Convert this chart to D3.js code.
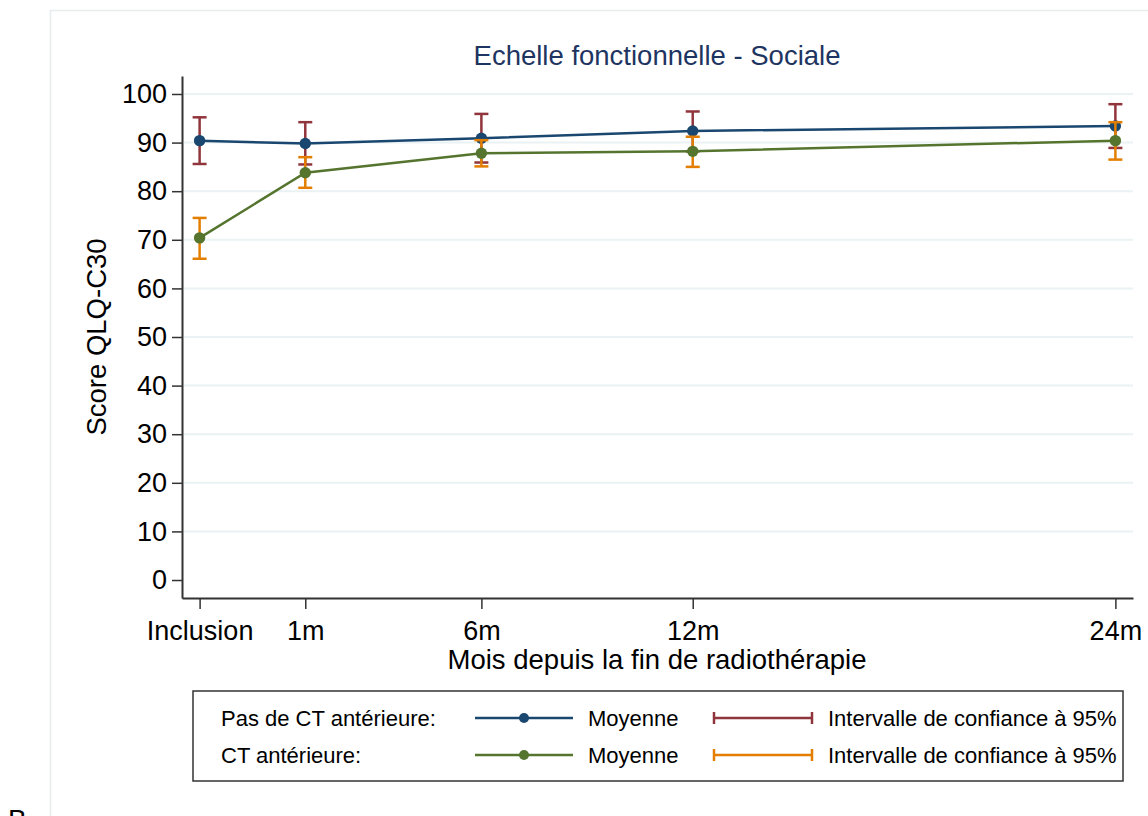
<!DOCTYPE html>
<html>
<head>
<meta charset="utf-8">
<script src="https://cdn.jsdelivr.net/npm/d3@7"></script>
<style>
  html, body { margin: 0; padding: 0; background: #fff; }
  svg { display: block; font-family: Arial, "Liberation Sans", Helvetica, sans-serif; }
</style>
</head>
<body>
<div id="chart"></div>
<script>
// ---------------------------------------------------------------
// Data
// ---------------------------------------------------------------
var timeLabels = ['Inclusion', '1m', '6m', '12m', '24m'];
var timeValues = [-2, 1, 6, 12, 24];

// Pas de CT antérieure
var meanNoCT = [90.4, 89.8, 90.9, 92.4, 93.4];
var lowNoCT  = [85.6, 85.5, 85.9, 88.2, 88.9];
var highNoCT = [95.2, 94.2, 95.9, 96.4, 97.9];

// CT antérieure
var meanCT = [70.4, 83.8, 87.8, 88.2, 90.4];
var lowCT  = [66.1, 80.7, 85.1, 85.0, 86.5];
var highCT = [74.5, 87.0, 90.5, 91.2, 94.2];

var yTicks = [0, 10, 20, 30, 40, 50, 60, 70, 80, 90, 100];

var W = 1148, H = 816;
var NAVY = '#1a476f', MAROON = '#90353b', GREEN = '#55752f', ORANGE = '#e37e00';
var GRID = '#eaf2f3', AXIS = '#333333';

var svg = d3.select('#chart').append('svg')
  .attr('width', W).attr('height', H);

// faint outer graph region outline
svg.append('path')
  .attr('d', 'M50.5,' + H + 'V10.5H' + W)
  .attr('fill', 'none')
  .attr('stroke', '#e6edef')
  .attr('stroke-width', 1.5);

var x = d3.scaleLinear().domain([-2.5, 24.5]).range([182, 1133]);
var y = d3.scaleLinear().domain([-3.7, 103.7]).range([598, 76]);

// gridlines
svg.append('g').selectAll('line')
  .data(yTicks.filter(function (d) { return d > 0; }))
  .join('line')
  .attr('x1', x.range()[0] + 2).attr('x2', x.range()[1])
  .attr('y1', function (d) { return y(d); })
  .attr('y2', function (d) { return y(d); })
  .attr('stroke', GRID)
  .attr('stroke-width', 2);

// y axis
var yAxis = svg.append('g')
  .attr('transform', 'translate(' + x.range()[0] + ',0)')
  .call(d3.axisLeft(y).tickValues(yTicks).tickSize(10).tickPadding(5).tickSizeOuter(0));
yAxis.select('.domain').attr('stroke', AXIS).attr('stroke-width', 2);
yAxis.selectAll('.tick line').attr('stroke', AXIS).attr('stroke-width', 1.5);
yAxis.selectAll('.tick text')
  .attr('font-size', 27).attr('fill', '#000').attr('font-family', null);

// x axis
var xAxis = svg.append('g')
  .attr('transform', 'translate(0,' + y.range()[0] + ')')
  .call(d3.axisBottom(x).tickValues(timeValues)
    .tickFormat(function (d, i) { return timeLabels[i]; })
    .tickSize(11).tickPadding(12).tickSizeOuter(0));
xAxis.select('.domain').attr('stroke', AXIS).attr('stroke-width', 2);
xAxis.selectAll('.tick line').attr('stroke', AXIS).attr('stroke-width', 1.5);
xAxis.selectAll('.tick text')
  .attr('font-size', 27).attr('fill', '#000').attr('font-family', null);

// titles
svg.append('text')
  .attr('x', 657).attr('y', 65)
  .attr('text-anchor', 'middle')
  .attr('font-size', 27.5)
  .attr('fill', '#1e3461')
  .text('Echelle fonctionnelle - Sociale');

svg.append('text')
  .attr('x', 657).attr('y', 669)
  .attr('text-anchor', 'middle')
  .attr('font-size', 27.5)
  .attr('fill', '#000')
  .text('Mois depuis la fin de radiothérapie');

svg.append('text')
  .attr('transform', 'translate(106,' + ((y.range()[0] + y.range()[1]) / 2) + ') rotate(-90)')
  .attr('text-anchor', 'middle')
  .attr('font-size', 27.5)
  .attr('fill', '#000')
  .text('Score QLQ-C30');

// ---------------------------------------------------------------
// Series
// ---------------------------------------------------------------
var CAP = 7;

function drawCI(low, high, color) {
  var g = svg.append('g')
    .attr('stroke', color)
    .attr('stroke-width', 2.5)
    .attr('fill', 'none');
  timeValues.forEach(function (t, i) {
    var cx = x(t);
    g.append('line').attr('x1', cx).attr('x2', cx)
      .attr('y1', y(low[i])).attr('y2', y(high[i]));
    g.append('line').attr('x1', cx - CAP).attr('x2', cx + CAP)
      .attr('y1', y(low[i])).attr('y2', y(low[i]));
    g.append('line').attr('x1', cx - CAP).attr('x2', cx + CAP)
      .attr('y1', y(high[i])).attr('y2', y(high[i]));
  });
}

function drawMean(mean, color) {
  var pts = timeValues.map(function (t, i) { return [x(t), y(mean[i])]; });
  svg.append('path')
    .attr('d', d3.line()(pts))
    .attr('fill', 'none')
    .attr('stroke', color)
    .attr('stroke-width', 2.5);
  svg.append('g').selectAll('circle')
    .data(pts)
    .join('circle')
    .attr('cx', function (d) { return d[0]; })
    .attr('cy', function (d) { return d[1]; })
    .attr('r', 5.7)
    .attr('fill', color);
}

drawCI(lowNoCT, highNoCT, MAROON);
drawMean(meanNoCT, NAVY);
drawCI(lowCT, highCT, ORANGE);
drawMean(meanCT, GREEN);

// ---------------------------------------------------------------
// Legend
// ---------------------------------------------------------------
var leg = svg.append('g');
leg.append('rect')
  .attr('x', 193).attr('y', 691)
  .attr('width', 930).attr('height', 90)
  .attr('fill', '#fff')
  .attr('stroke', AXIS)
  .attr('stroke-width', 1.5);

var legendRows = [
  { label: 'Pas de CT antérieure:', line: NAVY, ci: MAROON },
  { label: 'CT antérieure:',        line: GREEN, ci: ORANGE }
];

legendRows.forEach(function (r, i) {
  var cy = 718 + i * 37;
  leg.append('text').attr('x', 221).attr('y', cy + 8)
    .attr('font-size', 22).attr('fill', '#000').text(r.label);

  leg.append('line').attr('x1', 475).attr('x2', 573)
    .attr('y1', cy).attr('y2', cy)
    .attr('stroke', r.line).attr('stroke-width', 2.5);
  leg.append('circle').attr('cx', 524).attr('cy', cy).attr('r', 5).attr('fill', r.line);
  leg.append('text').attr('x', 588).attr('y', cy + 8)
    .attr('font-size', 22).attr('fill', '#000').text('Moyenne');

  var ci = leg.append('g').attr('stroke', r.ci).attr('stroke-width', 2.5);
  ci.append('line').attr('x1', 713).attr('x2', 813).attr('y1', cy).attr('y2', cy);
  ci.append('line').attr('x1', 714).attr('x2', 714).attr('y1', cy - 6).attr('y2', cy + 6);
  ci.append('line').attr('x1', 812).attr('x2', 812).attr('y1', cy - 6).attr('y2', cy + 6);
  leg.append('text').attr('x', 828).attr('y', cy + 8)
    .attr('font-size', 22).attr('fill', '#000').text('Intervalle de confiance à 95%');
});

// panel letter, cut off at the bottom edge as in the source
svg.append('text')
  .attr('x', 8).attr('y', 829)
  .attr('font-size', 28).attr('fill', '#000')
  .text('B');
</script>
</body>
</html>
